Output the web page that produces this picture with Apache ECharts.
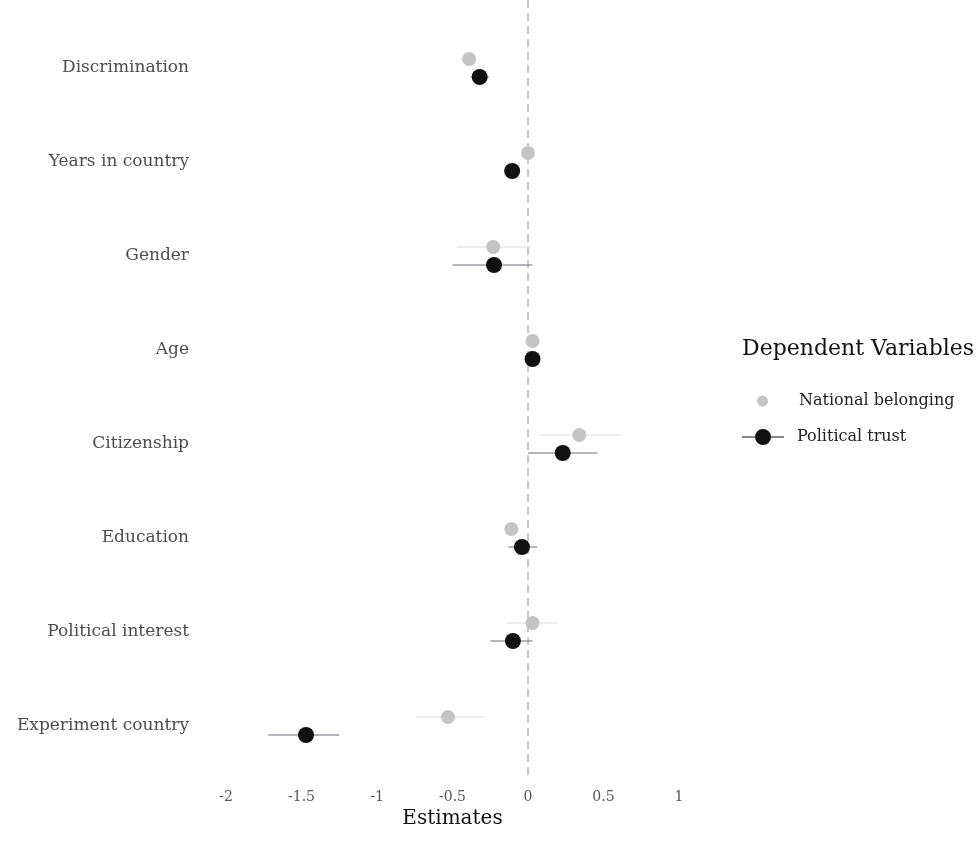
<!DOCTYPE html>
<html>
<head>
<meta charset="utf-8">
<script src="https://cdn.jsdelivr.net/npm/echarts@6/dist/echarts.min.js"></script>
<style>
  html, body { margin: 0; padding: 0; background: #fff; }
  #chart { width: 980px; height: 845px; }
</style>
</head>
<body>
<div id="chart"></div>
<script>
const variables = ['Discrimination', 'Years in country', 'Gender', 'Age', 'Citizenship', 'Education', 'Political interest', 'Experiment country']
const xTicks = [-2, -1.5, -1, -0.5, 0, 0.5, 1]
const refLine = [0]

// National belonging (grey)
const belongEst = [-0.39, 0.00, -0.23, 0.03, 0.34, -0.11, 0.03, -0.53]
const belongLow = [-0.44, -0.03, -0.47, 0.00, 0.08, -0.16, -0.14, -0.74]
const belongHigh = [-0.34, 0.03, 0.02, 0.06, 0.62, -0.06, 0.20, -0.28]

// Political trust (black)
const trustEst = [-0.32, -0.105, -0.225, 0.03, 0.23, -0.04, -0.10, -1.47]
const trustLow = [-0.38, -0.15, -0.50, 0.00, 0.00, -0.13, -0.25, -1.72]
const trustHigh = [-0.26, -0.06, 0.03, 0.06, 0.46, 0.06, 0.03, -1.25]

const serif = '"DejaVu Serif", "Liberation Serif", serif'

function rows(est, lo, hi) {
  return est.map((v, i) => [v, lo[i], hi[i], i])
}

function dotRenderer(offset, r, fill, stroke) {
  return function (params, api) {
    const cat = api.value(3)
    const p = api.coord([api.value(0), cat])
    const a = api.coord([api.value(1), cat])
    const b = api.coord([api.value(2), cat])
    const y = p[1] + offset
    return {
      type: 'group',
      children: [
        { type: 'line', shape: { x1: a[0], y1: y, x2: b[0], y2: y }, style: { stroke: stroke, lineWidth: 1 } },
        { type: 'circle', shape: { cx: p[0], cy: y, r: r }, style: { fill: fill } },
      ],
    }
  }
}

function vlineRenderer(params, api) {
  const x = api.coord([api.value(0), 0])[0]
  const cs = params.coordSys
  return {
    type: 'line',
    shape: { x1: x, y1: cs.y - 21, x2: x, y2: cs.y + cs.height + 6 },
    style: { stroke: '#8c9198', lineWidth: 1, lineDash: [8, 5] },
  }
}

const chart = echarts.init(document.getElementById('chart'))
chart.setOption({
  backgroundColor: '#ffffff',
  animation: false,
  title: {
    text: 'Dependent Variables',
    left: 737,
    top: 333,
    textStyle: { fontFamily: serif, fontSize: 22, fontWeight: 'normal', color: '#111' },
  },
  legend: [
    {
      left: 752,
      top: 388,
      itemWidth: 11,
      itemHeight: 11,
      icon: 'circle',
      textStyle: { fontFamily: serif, fontSize: 16, color: '#222', padding: [0, 0, 0, 26] },
      data: [{ name: 'National belonging', itemStyle: { color: '#c4c4c4' } }],
    },
    {
      left: 737,
      top: 424,
      itemWidth: 42,
      itemHeight: 16,
      icon: 'path://M0,7.5H13V8.5H0Z M13,8A8,8 0 1 0 29,8A8,8 0 1 0 13,8Z M29,7.5H42V8.5H29Z',
      textStyle: { fontFamily: serif, fontSize: 16, color: '#222', padding: [0, 0, 0, 8] },
      data: [{ name: 'Political trust', itemStyle: { color: '#111' } }],
    },
  ],
  grid: { left: 226, right: 301, top: 21, height: 752 },
  xAxis: {
    type: 'value',
    min: -2,
    max: 1,
    interval: 0.5,
    name: 'Estimates',
    nameLocation: 'middle',
    nameGap: 34,
    nameTextStyle: { fontFamily: serif, fontSize: 20, color: '#111' },
    axisLine: { show: false },
    axisTick: { show: false },
    splitLine: { show: false },
    axisLabel: {
      margin: 17,
      fontFamily: serif,
      fontSize: 14,
      color: '#555',
      formatter: v => xTicks.includes(v) ? String(v) : '',
    },
  },
  yAxis: {
    type: 'category',
    inverse: true,
    data: variables,
    axisLine: { show: false },
    axisTick: { show: false },
    splitLine: { show: false },
    axisLabel: { margin: 37, fontFamily: serif, fontSize: 17, color: '#4d4d4d' },
  },
  series: [
    {
      name: 'reference',
      type: 'custom',
      silent: true,
      data: refLine.map(v => [v, 0]),
      encode: { x: 0, y: 1 },
      renderItem: vlineRenderer,
    },
    {
      name: 'National belonging',
      type: 'custom',
      data: rows(belongEst, belongLow, belongHigh),
      encode: { x: 0, y: 3 },
      renderItem: dotRenderer(-9, 7, '#c4c4c4', '#dcdcdc'),
    },
    {
      name: 'Political trust',
      type: 'custom',
      data: rows(trustEst, trustLow, trustHigh),
      encode: { x: 0, y: 3 },
      renderItem: dotRenderer(9, 8, '#111111', '#6b6f74'),
    },
  ],
})
</script>
</body>
</html>
